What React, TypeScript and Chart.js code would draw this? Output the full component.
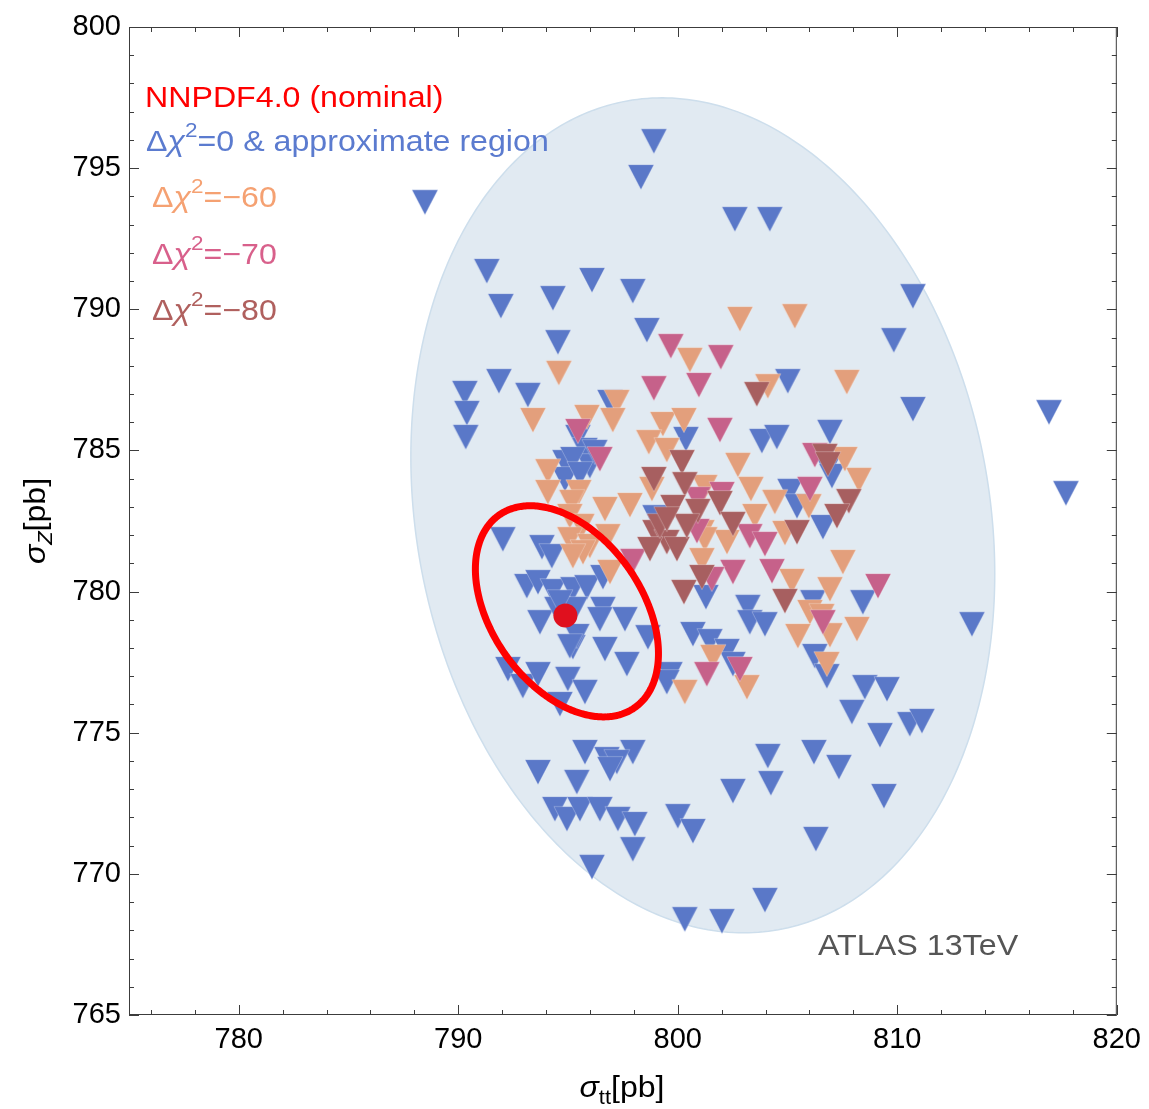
import React, { useEffect, useRef } from 'react';
import { Chart, registerables } from 'chart.js';

Chart.register(...registerables);

// ---------- axis ranges & ticks ----------
const X_RANGE = [775, 820];
const Y_RANGE = [765, 800];
const X_MAJOR_TICKS = [780, 790, 800, 810, 820];
const Y_MAJOR_TICKS = [765, 770, 775, 780, 785, 790, 795, 800];
const X_MINOR_STEP = 2;
const Y_MINOR_STEP = 1;

// ---------- data (sigma_tt, sigma_Z) in pb ----------
const NOMINAL_POINT: [number, number][] = [[794.88, 779.15]];
// cx, cy, sigma_x, sigma_y, correlation
const NOMINAL_ELLIPSE = [794.95, 779.3, 4.17, 3.74, -0.4];
const ATLAS_REGION = [801.14, 782.7, 13.3, 14.79, -0.14];

const CHI0_POINTS: [number, number][] = [
  [788.48, 793.94], [798.91, 796.1], [798.32, 794.83], [802.6, 793.34], [804.19, 793.34],
  [791.3, 791.5], [791.94, 790.26], [794.31, 790.54], [796.09, 791.18], [797.95, 790.79],
  [810.71, 790.61], [798.59, 789.41], [794.54, 788.98], [809.84, 789.05], [791.85, 787.6],
  [790.3, 787.18], [793.17, 787.11], [790.39, 786.47], [790.34, 785.62], [805.01, 787.6],
  [810.71, 786.61], [816.91, 786.5], [817.68, 783.63], [796.91, 786.86], [795.45, 785.62],
  [800.37, 785.55], [803.83, 785.48], [804.51, 785.62], [806.93, 785.8], [795.77, 785.16],
  [794.86, 784.73], [795.99, 784.59], [794.86, 784.13], [795.22, 784.84], [796.22, 785.09],
  [795.54, 784.31], [805.11, 783.71], [805.43, 783.17], [806.84, 784.56], [807.02, 784.24],
  [806.61, 782.43], [798.96, 782.78], [792.03, 782.0], [793.81, 781.72], [794.26, 781.4],
  [793.12, 780.34], [793.63, 780.48], [794.31, 780.16], [795.22, 780.23], [795.86, 780.3],
  [793.72, 779.06], [796.59, 779.53], [796.45, 779.17], [797.59, 779.17], [795.22, 778.18],
  [796.68, 778.11], [797.68, 777.58], [798.64, 778.53], [792.26, 777.4], [792.94, 776.8],
  [793.63, 777.22], [794.99, 777.05], [795.77, 776.59], [794.63, 776.16], [799.64, 777.22],
  [799.5, 776.94], [800.69, 778.64], [801.46, 778.39], [802.24, 778.04], [801.28, 779.95],
  [803.19, 779.6], [803.28, 779.06], [803.97, 778.99], [806.15, 779.77], [808.43, 779.77],
  [806.24, 777.86], [806.79, 777.15], [813.4, 778.99], [808.52, 776.76], [809.53, 776.69],
  [807.93, 775.88], [810.57, 775.45], [811.12, 775.56], [809.21, 775.06], [804.1, 774.32],
  [806.2, 774.46], [807.34, 773.93], [804.24, 773.36], [809.39, 772.9], [806.29, 771.38],
  [803.97, 769.22], [795.77, 774.46], [796.77, 774.21], [797.95, 774.46], [797.22, 774.11],
  [793.63, 773.75], [795.4, 773.4], [796.91, 773.86], [794.4, 772.44], [794.95, 772.09],
  [795.54, 772.44], [796.45, 772.44], [797.27, 772.09], [798.04, 771.91], [797.95, 771.02],
  [800.0, 772.19], [800.69, 771.66], [796.09, 770.39], [802.51, 773.08], [800.32, 768.54],
  [802.01, 768.47], [794.49, 779.53], [795.31, 779.53], [795.4, 778.57], [795.08, 778.21],
  [794.63, 779.77], [802.51, 777.58], [796.59, 780.66],
];

const CHI60_POINTS: [number, number][] = [
  [802.83, 789.8], [805.33, 789.9], [800.55, 788.35], [794.58, 787.89], [804.1, 787.42], [807.7, 787.57],
  [793.4, 786.22], [795.86, 786.33], [797.22, 786.86], [797.04, 786.22], [799.32, 786.08], [800.28, 786.22],
  [798.68, 785.44], [799.5, 785.16], [794.08, 784.41], [794.08, 783.67], [795.49, 783.67], [795.17, 783.32],
  [796.68, 783.07], [797.82, 783.21], [795.08, 782.82], [795.63, 782.47], [795.08, 782.0], [795.99, 781.76],
  [795.68, 781.54], [796.81, 782.11], [796.91, 780.84], [802.74, 784.63], [807.61, 784.84], [808.25, 784.1],
  [798.82, 783.78], [801.23, 783.85], [803.33, 783.78], [804.42, 783.32], [805.97, 783.17], [803.51, 782.82],
  [804.88, 782.22], [801.1, 782.25], [802.24, 781.9], [801.23, 782.0], [801.1, 781.26], [805.2, 780.52],
  [807.52, 781.19], [806.93, 780.23], [806.02, 779.42], [806.56, 779.28], [805.47, 778.57], [806.93, 778.6],
  [808.16, 778.82], [806.79, 777.58], [801.6, 777.83], [800.32, 776.59], [803.15, 776.76], [795.22, 781.4],
];

const CHI70_POINTS: [number, number][] = [
  [799.68, 788.84], [801.96, 788.45], [798.91, 787.35], [800.96, 787.46], [795.45, 785.83], [796.45, 784.84],
  [801.92, 785.87], [806.24, 784.98], [806.02, 783.78], [800.91, 783.42], [802.01, 783.6], [803.28, 782.11],
  [803.97, 781.83], [800.87, 782.29], [797.95, 781.23], [802.51, 780.84], [801.55, 780.59], [804.29, 780.87],
  [809.12, 780.34], [806.61, 779.06], [802.83, 777.4], [801.32, 777.22],
];

const CHI80_POINTS: [number, number][] = [
  [803.6, 787.14], [806.7, 784.95], [806.84, 784.66], [800.19, 784.73], [798.91, 784.13], [800.32, 783.95],
  [799.78, 783.14], [800.91, 783.0], [801.92, 783.28], [802.51, 782.54], [807.79, 783.35], [807.25, 782.82],
  [805.43, 782.25], [798.96, 782.25], [799.5, 781.9], [799.96, 781.65], [798.73, 781.65], [799.18, 782.47],
  [800.41, 782.47], [799.5, 782.71], [801.1, 780.66], [800.28, 780.13], [804.88, 779.81],
];

// ---------- styles ----------
const FONT = "'Liberation Sans', Arial, Helvetica, sans-serif";
const C_BLUE = '#5a78c8';
const C_ORANGE = '#e39f7c';
const C_PINK = '#c6618a';
const C_BROWN = '#a75f60';
const T_RED = '#ff0000';
const T_BLUE = '#5b7bcf';
const T_ORANGE = '#f5a172';
const T_PINK = '#d8608b';
const T_BROWN = '#b0605e';

type Seg = { t: string; italic?: boolean; scale?: number; dy?: number };

function richWidth(ctx: CanvasRenderingContext2D, segs: Seg[], size: number) {
  let w = 0;
  for (const s of segs) {
    const fs = size * (s.scale ?? 1);
    ctx.font = `${s.italic ? 'italic ' : ''}${fs}px ${FONT}`;
    w += ctx.measureText(s.t).width;
  }
  return w;
}

// draws text segments with an optional horizontal stretch
function drawRich(
  ctx: CanvasRenderingContext2D,
  segs: Seg[],
  x: number,
  y: number,
  size: number,
  color: string,
  stretch = 1,
) {
  ctx.save();
  ctx.translate(x, y);
  ctx.scale(stretch, 1);
  let cx = 0;
  ctx.fillStyle = color;
  ctx.textAlign = 'left';
  ctx.textBaseline = 'alphabetic';
  for (const s of segs) {
    const fs = size * (s.scale ?? 1);
    ctx.font = `${s.italic ? 'italic ' : ''}${fs}px ${FONT}`;
    ctx.fillText(s.t, cx, (s.dy ?? 0) * size);
    cx += ctx.measureText(s.t).width;
  }
  ctx.restore();
}

function ellipsePath(chart: any, e: number[]) {
  const ctx: CanvasRenderingContext2D = chart.ctx;
  const xs = chart.scales.x;
  const ys = chart.scales.y;
  const [cx, cy, sx, sy, rho] = e;
  const k = Math.sqrt(1 - rho * rho);
  ctx.beginPath();
  const N = 360;
  for (let i = 0; i <= N; i++) {
    const t = (i / N) * Math.PI * 2;
    const vx = cx + sx * Math.cos(t);
    const vy = cy + sy * (rho * Math.cos(t) + k * Math.sin(t));
    const px = xs.getPixelForValue(vx);
    const py = ys.getPixelForValue(vy);
    if (i === 0) ctx.moveTo(px, py);
    else ctx.lineTo(px, py);
  }
  ctx.closePath();
}

function makeTriangle(fill: string): HTMLCanvasElement {
  const w = 26;
  const h = 25;
  const W = 28;
  const H = 36;
  const c = document.createElement('canvas');
  c.width = W;
  c.height = H;
  const g = c.getContext('2d')!;
  const cx = W / 2;
  const cy = H / 2;
  g.beginPath();
  g.moveTo(cx - w / 2, cy - h / 3);
  g.lineTo(cx + w / 2, cy - h / 3);
  g.lineTo(cx, cy + (2 * h) / 3);
  g.closePath();
  g.fillStyle = fill;
  g.fill();
  g.lineWidth = 0.8;
  g.strokeStyle = 'rgba(255,255,255,0.35)';
  g.stroke();
  return c;
}

const overlayPlugin = {
  id: 'overlay',
  beforeDatasetsDraw(chart: any) {
    const ctx: CanvasRenderingContext2D = chart.ctx;
    ctx.save();
    ellipsePath(chart, ATLAS_REGION);
    ctx.fillStyle = '#e1eaf2';
    ctx.fill();
    ctx.lineWidth = 1.5;
    ctx.strokeStyle = '#cddeec';
    ctx.stroke();
    ctx.restore();
  },
  afterDatasetsDraw(chart: any) {
    const ctx: CanvasRenderingContext2D = chart.ctx;
    ctx.save();
    ellipsePath(chart, NOMINAL_ELLIPSE);
    ctx.lineWidth = 7;
    ctx.strokeStyle = '#ff0000';
    ctx.stroke();
    ctx.restore();
  },
  afterDraw(chart: any) {
    const ctx: CanvasRenderingContext2D = chart.ctx;
    const { left, right, top, bottom } = chart.chartArea;
    const xs = chart.scales.x;
    const ys = chart.scales.y;
    ctx.save();
    // frame
    ctx.strokeStyle = '#3c3c3c';
    ctx.lineWidth = 1;
    ctx.strokeRect(left + 0.5, top + 0.5, right - left - 1, bottom - top - 1);
    // ticks
    ctx.beginPath();
    for (let v = X_RANGE[0]; v <= X_RANGE[1] + 1e-9; v += 1) {
      if (v % X_MINOR_STEP !== 0) continue;
      const major = X_MAJOR_TICKS.includes(v);
      const len = major ? 10 : 5;
      const px = Math.round(xs.getPixelForValue(v)) + 0.5;
      ctx.moveTo(px, bottom);
      ctx.lineTo(px, bottom - len);
      ctx.moveTo(px, top);
      ctx.lineTo(px, top + len);
    }
    for (let v = Y_RANGE[0]; v <= Y_RANGE[1] + 1e-9; v += Y_MINOR_STEP) {
      const major = Y_MAJOR_TICKS.includes(v);
      const len = major ? 10 : 5;
      const py = Math.round(ys.getPixelForValue(v)) + 0.5;
      ctx.moveTo(left, py);
      ctx.lineTo(left + len, py);
      ctx.moveTo(right, py);
      ctx.lineTo(right - len, py);
    }
    ctx.stroke();

    // legend texts
    const LS = 29.5;
    const ST = 1.09;
    drawRich(ctx, [{ t: 'NNPDF4.0 (nominal)' }], 145, 107, LS, T_RED, ST);
    const chi = (rest: string): Seg[] => [
      { t: 'Δ' },
      { t: 'χ', italic: true },
      { t: '2', scale: 0.7, dy: -0.48 },
      { t: rest },
    ];
    drawRich(ctx, chi('=0 & approximate region'), 146, 151, LS, T_BLUE, ST);
    drawRich(ctx, chi('=−60'), 152, 207, LS, T_ORANGE, ST);
    drawRich(ctx, chi('=−70'), 152, 264, LS, T_PINK, ST);
    drawRich(ctx, chi('=−80'), 152, 320, LS, T_BROWN, ST);

    // ATLAS label
    drawRich(ctx, [{ t: 'ATLAS 13TeV' }], 818, 955, 30, '#555555', 1.075);

    // axis titles
    const TS = 30;
    const TST = 1.07;
    const xTitle: Seg[] = [
      { t: 'σ', italic: true },
      { t: 'tt', scale: 0.68, dy: 0.22 },
      { t: '[pb]' },
    ];
    const xw = richWidth(ctx, xTitle, TS) * TST;
    drawRich(ctx, xTitle, 622 - xw / 2, 1097, TS, '#000', TST);

    const yTitle: Seg[] = [
      { t: 'σ', italic: true },
      { t: 'Z', italic: true, scale: 0.68, dy: 0.22 },
      { t: '[pb]' },
    ];
    const yw = richWidth(ctx, yTitle, TS) * TST;
    ctx.translate(45, 521);
    ctx.rotate(-Math.PI / 2);
    drawRich(ctx, yTitle, -yw / 2, 0, TS, '#000', TST);
    ctx.restore();
  },
};

const toXY = (pts: [number, number][]) => pts.map(([x, y]) => ({ x, y }));

export default function App() {
  const ref = useRef<HTMLCanvasElement | null>(null);

  useEffect(() => {
    const canvas = ref.current;
    if (!canvas) return;
    const triBlue = makeTriangle(C_BLUE);
    const triOrange = makeTriangle(C_ORANGE);
    const triPink = makeTriangle(C_PINK);
    const triBrown = makeTriangle(C_BROWN);

    const chart = new Chart(canvas, {
      type: 'scatter',
      data: {
        datasets: [
          {
            label: 'NNPDF4.0 (nominal)',
            data: toXY(NOMINAL_POINT),
            pointStyle: 'circle',
            pointRadius: 12,
            backgroundColor: '#e0101e',
            borderColor: '#e0101e',
            borderWidth: 0,
            order: 0,
          },
          {
            label: 'Δχ2=−80',
            data: toXY(CHI80_POINTS),
            pointStyle: triBrown as any,
            pointRadius: 13,
            order: 1,
          },
          {
            label: 'Δχ2=−70',
            data: toXY(CHI70_POINTS),
            pointStyle: triPink as any,
            pointRadius: 13,
            order: 2,
          },
          {
            label: 'Δχ2=−60',
            data: toXY(CHI60_POINTS),
            pointStyle: triOrange as any,
            pointRadius: 13,
            order: 3,
          },
          {
            label: 'Δχ2=0',
            data: toXY(CHI0_POINTS),
            pointStyle: triBlue as any,
            pointRadius: 13,
            order: 4,
          },
        ],
      },
      options: {
        animation: false,
        responsive: false,
        maintainAspectRatio: false,
        events: [],
        layout: { padding: { top: 27, right: 32, left: 0, bottom: 0 } },
        plugins: {
          legend: { display: false },
          tooltip: { enabled: false },
        },
        scales: {
          x: {
            type: 'linear',
            min: X_RANGE[0],
            max: X_RANGE[1],
            afterBuildTicks: (s: any) => {
              s.ticks = X_MAJOR_TICKS.map((v) => ({ value: v }));
            },
            afterFit: (s: any) => {
              s.height = 94;
            },
            grid: { display: false, drawTicks: false },
            border: { display: false },
            ticks: {
              autoSkip: false,
              maxRotation: 0,
              padding: 8,
              color: '#000',
              font: { family: FONT, size: 29 },
              callback: (v: any) => String(v),
            },
          },
          y: {
            type: 'linear',
            min: Y_RANGE[0],
            max: Y_RANGE[1],
            afterBuildTicks: (s: any) => {
              s.ticks = Y_MAJOR_TICKS.map((v) => ({ value: v }));
            },
            afterFit: (s: any) => {
              s.width = 129;
            },
            grid: { display: false, drawTicks: false },
            border: { display: false },
            ticks: {
              autoSkip: false,
              padding: 8,
              color: '#000',
              font: { family: FONT, size: 29 },
              callback: (v: any) => String(v),
            },
          },
        },
      },
      plugins: [overlayPlugin],
    });
    return () => chart.destroy();
  }, []);

  return (
    <div style={{ position: 'fixed', left: 0, top: 0, width: 1149, height: 1109, background: '#fff' }}>
      <canvas ref={ref} width={1149} height={1109} style={{ display: 'block', width: 1149, height: 1109 }} />
    </div>
  );
}
